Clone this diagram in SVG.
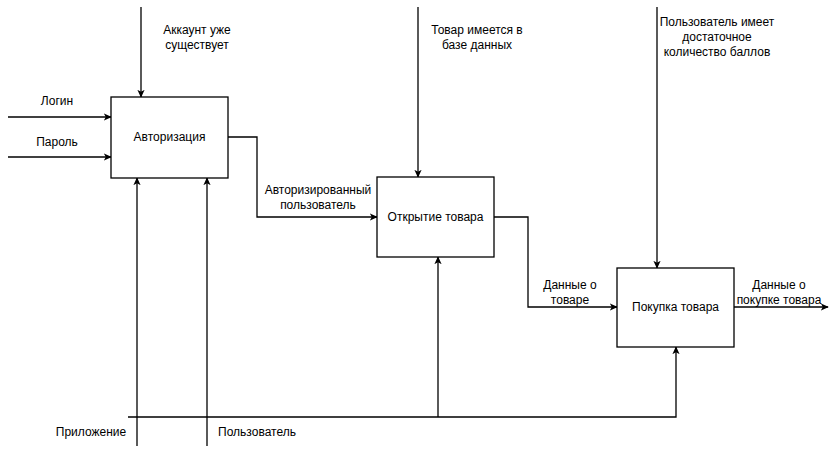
<svg xmlns="http://www.w3.org/2000/svg" width="836" height="456" viewBox="0 0 836 456">
<defs>
<marker id="arr" viewBox="0 0 10 10" refX="9" refY="5" markerWidth="8" markerHeight="8" markerUnits="userSpaceOnUse" orient="auto">
<path d="M0,0.5 L10,5 L0,9.5 L2.5,5 Z" fill="#000"/>
</marker>
<style>
.box{fill:#fff;stroke:#000;stroke-width:1.3}
.ln{fill:none;stroke:#000;stroke-width:1.3}
.a{marker-end:url(#arr)}
text{font-family:"Liberation Sans",Arial,sans-serif;font-size:12px;fill:#000;text-anchor:middle}
</style>
</defs>
<rect width="836" height="456" fill="#fff"/>
<g id="connectors">
<path class="ln a" d="M141,7 V97"/>
<path class="ln a" d="M8,117 H111"/>
<path class="ln a" d="M8,157 H111"/>
<path class="ln a" d="M228,137 H257 V217 H377"/>
<path class="ln a" d="M418,7 V177"/>
<path class="ln a" d="M494,217 H528 V307 H617"/>
<path class="ln a" d="M657,7 V268"/>
<path class="ln a" d="M734,307 H828"/>
<path class="ln a" d="M137,446 V178"/>
<path class="ln a" d="M207,446 V178"/>
<path class="ln a" d="M128,417 H676 V347"/>
<path class="ln a" d="M438,417 V257"/>
</g>
<g id="n1"><rect class="box" x="111" y="97" width="117" height="81"/><text x="169.5" y="141">Авторизация</text></g>
<g id="n2"><rect class="box" x="377" y="177" width="117" height="80"/><text x="435.5" y="221">Открытие товара</text></g>
<g id="n3"><rect class="box" x="617" y="268" width="117" height="79"/><text x="675.5" y="311">Покупка товара</text></g>
<g id="labels">
<text x="57" y="105">Логин</text>
<text x="57" y="146">Пароль</text>
<text x="197" y="34">Аккаунт уже</text>
<text x="197" y="49">существует</text>
<text x="477" y="34">Товар имеется в</text>
<text x="477" y="49">базе данных</text>
<text x="717" y="26">Пользователь имеет</text>
<text x="717" y="41">достаточное</text>
<text x="717" y="56">количество баллов</text>
<text x="318" y="194">Авторизированный</text>
<text x="318" y="209">пользователь</text>
<text x="570" y="289">Данные о</text>
<text x="570" y="304">товаре</text>
<text x="779" y="289">Данные о</text>
<text x="779" y="304">покупке товара</text>
<text x="91" y="436">Приложение</text>
<text x="257" y="436">Пользователь</text>
</g>
</svg>
